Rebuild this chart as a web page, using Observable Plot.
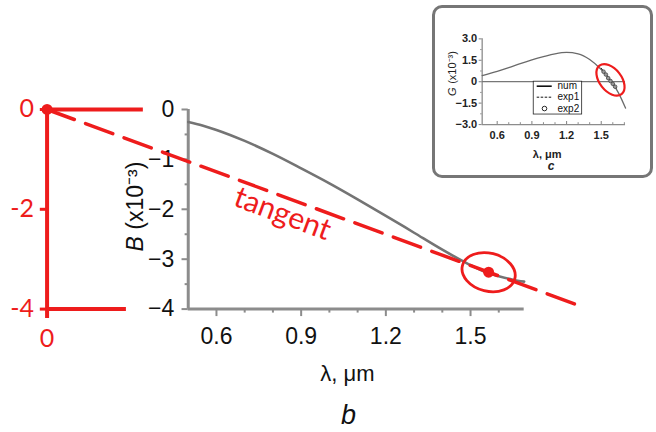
<!DOCTYPE html>
<html><head><meta charset="utf-8">
<script src="https://cdn.jsdelivr.net/npm/d3@7"></script>
<script src="https://cdn.jsdelivr.net/npm/@observablehq/plot@0.6"></script>
<style>
html,body{margin:0;padding:0;background:#fff}
#wrap{position:relative;width:656px;height:432px;overflow:hidden}
#main{position:absolute;left:0;top:0}
#inbox{position:absolute;left:432px;top:5px;width:221px;height:173px;box-sizing:border-box;border:3px solid #767676;border-radius:10px;background:#fff}
#inset{position:absolute;left:432px;top:5px}
svg{display:block}
</style>
</head><body>
<div id="wrap"><div id="main"></div><div id="inbox"></div><div id="inset"></div></div>
<script>
// ---------- main panel (b) data ----------
const lambdaB = [0.5, 0.55, 0.6, 0.7, 0.8, 0.9, 1.0, 1.1, 1.2, 1.3, 1.4, 1.45, 1.5, 1.55, 1.6, 1.65, 1.69];
const valuesB = [-0.25, -0.32, -0.41, -0.63, -0.89, -1.18, -1.48, -1.80, -2.13, -2.47, -2.81, -2.97, -3.12, -3.25, -3.34, -3.41, -3.45];
const yMajorB = [0, -1, -2, -3, -4];
const yLabelsB = ["0", "\u22121", "\u22122", "\u22123", "\u22124"];
const yMinorB = [-0.5, -1.5, -2.5, -3.5];
const xMajorB = [0.6, 0.9, 1.2, 1.5];
const xLabelsB = ["0.6", "0.9", "1.2", "1.5"];
const xMinorB = [0.7, 0.8, 1.0, 1.1, 1.3, 1.4, 1.6];
const axisB = {x0: 0.5, x1: 1.69, y0: -4, y1: 0};
// red tangent construction
const redTicks = [0, -2, -4];
const redLabels = ["0", "-2", "-4"];
const tangentX = [0, 1.88];
const tangentY = [0, -3.92];
const touchPoint = {x: 1.564, y: -3.26};
const redOrigin = {x: 0, y: 0};

// ---------- inset panel (c) data ----------
const lambdaG = [0.47, 0.6, 0.7, 0.8, 0.9, 1.0, 1.1, 1.2, 1.3, 1.4, 1.5, 1.55, 1.6, 1.65, 1.71];
const valuesG = [0.42, 0.72, 0.98, 1.26, 1.52, 1.75, 1.95, 2.05, 1.95, 1.55, 0.85, 0.40, -0.15, -0.80, -1.85];
const exp1L = [1.50, 1.55, 1.60, 1.63];
const exp1G = [0.95, 0.40, -0.10, -0.45];
const exp2L = [1.52, 1.54, 1.56, 1.58, 1.60, 1.62];
const exp2G = [0.70, 0.50, 0.25, 0.05, -0.15, -0.35];
const yMajorG = [3, 1.5, 0, -1.5, -3];
const yLabelsG = ["3.0", "1.5", "0", "\u22121.5", "\u22123.0"];
const yMinorG = [2.25, 0.75, -0.75, -2.25];
const xMajorG = [0.6, 0.9, 1.2, 1.5];
const xLabelsG = ["0.6", "0.9", "1.2", "1.5"];
const xMinorG = [0.7, 0.8, 1.0, 1.1, 1.3, 1.4, 1.6, 1.7];
const legendNames = ["num", "exp1", "exp2"];
const axisG = {x0: 0.47, x1: 1.71, y0: -3, y1: 3};

const RED = "#ee1c1c";
const GRAY = "#8c8c8c";
const REDFONT = "Lato, 'Open Sans', sans-serif";

function ellipseSymbol(rx, ry, deg) {
  const a = deg * Math.PI / 180, c = Math.cos(a), s = Math.sin(a), k = 0.5523;
  const P = (u, v) => [u * c - v * s, u * s + v * c];
  const seg = [[rx,0],[rx,k*ry],[k*rx,ry],[0,ry],[-k*rx,ry],[-rx,k*ry],[-rx,0],[-rx,-k*ry],[-k*rx,-ry],[0,-ry],[k*rx,-ry],[rx,-k*ry],[rx,0]];
  return {draw(ctx) {
    const p0 = P(...seg[0]); ctx.moveTo(p0[0], p0[1]);
    for (let i = 1; i < seg.length; i += 3) {
      const a1 = P(...seg[i]), a2 = P(...seg[i+1]), a3 = P(...seg[i+2]);
      ctx.bezierCurveTo(a1[0], a1[1], a2[0], a2[1], a3[0], a3[1]);
    }
    ctx.closePath();
  }};
}

const curveB = lambdaB.map((x, i) => ({x, y: valuesB[i]}));
const tangent = tangentX.map((x, i) => ({x, y: tangentY[i]}));
const TKX = 0.022, TKXm = 0.011;   // y-axis tick length (x units)
const TKY = 0.15, TKYm = 0.08;     // x-axis tick length (y units)

const main = Plot.plot({
  width: 656, height: 432, margin: 0,
  x: {domain: [-0.165, 2.1587], axis: null},
  y: {domain: [-6.473, 2.184], axis: null},
  style: {fontFamily: "'Liberation Sans', Arial, sans-serif", background: "transparent"},
  marks: [
    // main axes
    Plot.ruleX([axisB.x0], {y1: axisB.y0, y2: axisB.y1, stroke: GRAY, strokeWidth: 3}),
    Plot.ruleY([axisB.y0], {x1: axisB.x0, x2: axisB.x1, stroke: GRAY, strokeWidth: 3}),
    Plot.ruleY(yMajorB, {y: d => d, x1: axisB.x0 - TKX, x2: axisB.x0, stroke: GRAY, strokeWidth: 2}),
    Plot.ruleY(yMinorB, {y: d => d, x1: axisB.x0 - TKXm, x2: axisB.x0, stroke: GRAY, strokeWidth: 2}),
    Plot.ruleX(xMajorB, {x: d => d, y1: axisB.y0 - TKY, y2: axisB.y0, stroke: GRAY, strokeWidth: 2}),
    Plot.ruleX(xMinorB, {x: d => d, y1: axisB.y0 - TKYm, y2: axisB.y0, stroke: GRAY, strokeWidth: 2}),
    Plot.text(yMajorB, {x: axisB.x0, y: d => d, text: (d, i) => yLabelsB[i], dx: -14, textAnchor: "end", fontSize: 23, fill: "#111"}),
    Plot.text(xMajorB, {x: d => d, y: axisB.y0, text: (d, i) => xLabelsB[i], dy: 28, fontSize: 23, fill: "#111"}),
    Plot.text(["\u03bb, \u03bcm"], {x: 1.064, y: -5.29, text: d => d, fontSize: 22, fill: "#111"}),
    Plot.text(["b"], {x: 1.068, y: -6.12, text: d => d, fontSize: 27, fontStyle: "italic", fill: "#111"}),
    Plot.text(["B"], {x: 0.313, y: -2.846, text: d => d, rotate: -90, textAnchor: "start", fontSize: 23, fontStyle: "italic", fill: "#111"}),
    Plot.text(["(x10\u207b\u00b3)"], {x: 0.313, y: -2.41, text: d => d, rotate: -90, textAnchor: "start", fontSize: 23, fill: "#111"}),
    // curve
    Plot.line(curveB, {x: "x", y: "y", curve: "monotone-x", stroke: "#747474", strokeWidth: 2.6}),
    // red construction axes
    Plot.ruleX([0], {y1: -4.19, y2: 0, stroke: RED, strokeWidth: 4}),
    Plot.ruleY([0], {x1: 0, x2: 0.341, stroke: RED, strokeWidth: 4}),
    Plot.ruleY([-4], {x1: 0, x2: 0.281, stroke: RED, strokeWidth: 4}),
    Plot.ruleY(redTicks, {y: d => d, x1: -0.024, x2: 0, stroke: RED, strokeWidth: 3}),
    Plot.text(redTicks, {x: 0, y: d => d, text: (d, i) => redLabels[i], dx: -13, textAnchor: "end", fontSize: 25, fill: RED, fontFamily: REDFONT}),
    Plot.text(["0"], {x: 0, y: -4, text: d => d, dy: 30, fontSize: 25, fill: RED, fontFamily: REDFONT}),
    // tangent line
    Plot.line(tangent, {x: "x", y: "y", stroke: RED, strokeWidth: 3.5, strokeDasharray: "29,12"}),
    Plot.text(["tangent"], {x: 0.834, y: -2.09, text: d => d, rotate: 20.5, fontSize: 30, fill: RED, fontFamily: REDFONT}),
    Plot.dot([redOrigin], {x: "x", y: "y", r: 5.5, fill: RED, stroke: "none"}),
    Plot.dot([touchPoint], {x: "x", y: "y", r: 5.5, fill: RED, stroke: "none"}),
    Plot.dot([touchPoint], {x: "x", y: "y", r: 5, symbol: ellipseSymbol(27, 19, 14), fill: "none", stroke: RED, strokeWidth: 2.8})
  ]
});
document.getElementById("main").appendChild(main);

// ---------- inset ----------
const curveG = lambdaG.map((x, i) => ({x, y: valuesG[i]}));
const exp1 = exp1L.map((x, i) => ({x, y: exp1G[i]}));
const exp2 = exp2L.map((x, i) => ({x, y: exp2G[i]}));
const iTKX = 0.026, iTKY = 0.21, iTKYm = 0.13;
const legRows = [-0.315, -1.085, -1.88];
const legBox = {x1: 0.916, x2: 1.335, y1: 0.0, y2: -2.30};
const legLine = {x1: 0.946, x2: 1.076, xc: 1.009, xt: 1.122};

const inset = Plot.plot({
  width: 221, height: 173, margin: 0,
  x: {domain: [0.0403, 1.952], axis: null},
  y: {domain: [-6.779, 5.336], axis: null},
  style: {fontFamily: "'Liberation Sans', Arial, sans-serif", background: "transparent"},
  marks: [
    Plot.ruleX([axisG.x0], {y1: axisG.y0, y2: axisG.y1, stroke: GRAY, strokeWidth: 1.3}),
    Plot.ruleY([axisG.y0], {x1: axisG.x0, x2: axisG.x1, stroke: GRAY, strokeWidth: 1.3}),
    Plot.ruleY([0], {x1: axisG.x0, x2: axisG.x1, stroke: "#777", strokeWidth: 1.2}),
    Plot.ruleY(yMajorG, {y: d => d, x1: axisG.x0 - iTKX, x2: axisG.x0, stroke: GRAY, strokeWidth: 1.1}),
    Plot.ruleY(yMinorG, {y: d => d, x1: axisG.x0 - iTKX / 2, x2: axisG.x0, stroke: GRAY, strokeWidth: 1}),
    Plot.ruleX(xMajorG, {x: d => d, y1: axisG.y0, y2: axisG.y0 + iTKY, stroke: GRAY, strokeWidth: 1.1}),
    Plot.ruleX(xMinorG, {x: d => d, y1: axisG.y0, y2: axisG.y0 + iTKYm, stroke: GRAY, strokeWidth: 1}),
    Plot.text(yMajorG, {x: axisG.x0, y: d => d, text: (d, i) => yLabelsG[i], dx: -5, textAnchor: "end", fontSize: 11, fontWeight: 600, fill: "#222"}),
    Plot.text(xMajorG, {x: d => d, y: axisG.y0, text: (d, i) => xLabelsG[i], dy: 11, fontSize: 11, fontWeight: 600, fill: "#222"}),
    Plot.text(["\u03bb, \u03bcm"], {x: 1.032, y: -5.13, text: d => d, fontSize: 11, fontWeight: 600, fill: "#222"}),
    Plot.text(["c"], {x: 1.067, y: -5.92, text: d => d, fontSize: 12, fontStyle: "italic", fontWeight: 600, fill: "#222"}),
    Plot.text(["G"], {x: 0.211, y: -1.0, text: d => d, rotate: -90, textAnchor: "start", fontSize: 11, fontStyle: "italic", fill: "#222"}),
    Plot.text(["(x10\u207b\u00b3)"], {x: 0.211, y: -0.15, text: d => d, rotate: -90, textAnchor: "start", fontSize: 11, fill: "#222"}),
    Plot.line(curveG, {x: "x", y: "y", curve: "monotone-x", stroke: "#6a6a6a", strokeWidth: 1.3}),
    Plot.line(exp1, {x: "x", y: "y", stroke: "#333", strokeWidth: 1, strokeDasharray: "2,1.5"}),
    Plot.dot(exp2, {x: "x", y: "y", r: 1.8, stroke: "#444", strokeWidth: 0.8, fill: "#999"}),
    // legend
    Plot.rect([legBox], {x1: "x1", x2: "x2", y1: "y1", y2: "y2", fill: "#fff", stroke: "#222", strokeWidth: 0.8}),
    Plot.ruleY([legRows[0]], {x1: legLine.x1, x2: legLine.x2, stroke: "#111", strokeWidth: 1.6}),
    Plot.ruleY([legRows[1]], {x1: legLine.x1, x2: legLine.x2, stroke: "#111", strokeWidth: 1, strokeDasharray: "2.5,1.5"}),
    Plot.dot([legRows[2]], {x: legLine.xc, y: d => d, r: 2.3, stroke: "#111", strokeWidth: 0.9, fill: "none"}),
    Plot.text(legRows, {x: legLine.xt, y: d => d, text: (d, i) => legendNames[i], textAnchor: "start", fontSize: 10, fill: "#111"}),
    Plot.dot([{x: 1.58, y: 0.13}], {x: "x", y: "y", r: 5, symbol: ellipseSymbol(18, 11, 52), fill: "none", stroke: RED, strokeWidth: 2.2})
  ]
});
document.getElementById("inset").appendChild(inset);
</script>
</body></html>
